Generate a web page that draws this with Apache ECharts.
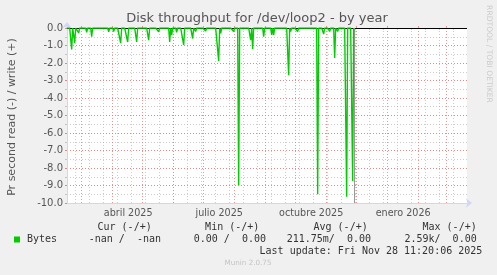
<!DOCTYPE html>
<html>
<head>
<meta charset="utf-8">
<script src="https://cdn.jsdelivr.net/npm/echarts@6/dist/echarts.min.js"></script>
<style>
html,body{margin:0;padding:0;background:#f0f0f0;}
#chart{width:497px;height:275px;}
</style>
</head>
<body>
<div id="chart"></div>
<script>
// ---- data ----
var titleText = 'Disk throughput for /dev/loop2 - by year';
var yAxisTitle = 'Pr second read (-) / write (+)';
var axisStart = '2025-02-14T08:00:00Z';   // left edge of plot
var axisDays = 400;
var dataStart = '2025-02-14';
var dataEnd = '2025-11-28';
var nowMarker = '2025-11-28T12:00:00Z';
// read (-) spikes: dates and values; all other days are 0
var spikeDates = ['2025-02-19','2025-02-22','2025-02-26','2025-03-06','2025-03-11','2025-03-28','2025-04-02','2025-04-09','2025-04-16','2025-04-25',
                  '2025-05-07','2025-05-17','2025-05-28','2025-05-30','2025-06-04','2025-06-11','2025-06-20','2025-06-23','2025-07-03','2025-07-16',
                  '2025-07-18','2025-07-31','2025-08-05','2025-08-17','2025-08-19','2025-08-30','2025-09-07','2025-09-09','2025-09-24','2025-09-26',
                  '2025-10-03','2025-10-23','2025-10-29','2025-11-04','2025-11-09','2025-11-12','2025-11-21','2025-11-27'];
var spikeValues = [-1.22,-0.85,-0.28,-0.25,-0.5,-0.22,-0.2,-0.87,-0.8,-0.8,
                   -0.7,-0.22,-0.8,-0.4,-0.25,-0.97,-0.6,-0.2,-0.17,-1.88,
                   -0.3,-0.2,-8.97,-0.7,-1.2,-0.5,-0.4,-0.4,-2.7,-0.2,
                   -0.2,-9.5,-0.35,-0.2,-1.72,-0.2,-9.64,-8.74];
var monthTicks = ['2025-03-01','2025-04-01','2025-05-01','2025-06-01','2025-07-01','2025-08-01','2025-09-01','2025-10-01','2025-11-01','2025-12-01','2026-01-01','2026-02-01','2026-03-01'];
var minorTickStart = '2025-02-23';
var minorTickStepDays = 14;
var xLabelDates = ['2025-04-16T12:00:00Z','2025-07-16T12:00:00Z','2025-10-16T12:00:00Z','2026-01-16T12:00:00Z'];
var xLabelTexts = ['abril 2025','julio 2025','octubre 2025','enero 2026'];
var legendName = 'Bytes';
var legendHeaders = ['Cur (-/+)','Min (-/+)','Avg (-/+)','Max (-/+)'];
var legendValues = ['-nan /  -nan','0.00 /  0.00','211.75m/  0.00','2.59k/  0.00'];
var lastUpdate = 'Last update: Fri Nov 28 11:20:06 2025';
var footer = 'Munin 2.0.75';
var sideText = 'RRDTOOL / TOBI OETIKER';

// ---- build ----
var DAY = 86400000;
function t(s){ return Date.parse(s.length === 10 ? s + 'T00:00:00Z' : s); }
var xMin = t(axisStart), xMax = xMin + axisDays * DAY;
var spikeMap = {};
spikeDates.forEach(function(d,i){ spikeMap[t(d)] = spikeValues[i]; });
var seriesData = [];
for (var ts = t(dataStart); ts <= t(dataEnd); ts += DAY) {
  seriesData.push([ts, spikeMap[ts] !== undefined ? spikeMap[ts] : 0]);
}
var monthVals = monthTicks.map(t);
var minorVals = [];
for (var m = t(minorTickStart); m < xMax; m += minorTickStepDays * DAY) minorVals.push(m);
var labelVals = xLabelDates.map(t);
var labelMap = {};
labelVals.forEach(function(v,i){ labelMap[v] = xLabelTexts[i]; });

var RED = 'rgba(220,120,120,0.75)';
var GREY = 'rgba(170,170,170,0.6)';
var AXIS = '#CFD6F8';
var FONT = '#555555';
var MONO = '10px "DejaVu Sans Mono"';
var LEG = '#333333';

var chart = echarts.init(document.getElementById('chart'), null, {renderer:'canvas'});
chart.setOption({
  backgroundColor:'#f0f0f0',
  animation:false,
  grid:[{left:67, top:28, width:400, height:175, show:true, backgroundColor:'#ffffff', borderWidth:0}],
  xAxis:[
    {type:'value', min:xMin, max:xMax,
     axisLine:{show:false},
     axisTick:{show:true, customValues:minorVals, length:2, lineStyle:{color:GREY}},
     axisLabel:{show:false},
     splitLine:{show:true, lineStyle:{color:GREY, type:[1,2], width:1}}},
    {type:'value', min:xMin, max:xMax,
     axisLine:{show:false},
     axisTick:{show:true, customValues:monthVals, length:2, lineStyle:{color:RED}},
     axisLabel:{show:false},
     splitLine:{show:true, lineStyle:{color:RED, type:[1,2], width:1}}},
    {type:'value', min:xMin, max:xMax, position:'bottom',
     axisLine:{show:true, lineStyle:{color:AXIS, width:1}, symbol:['none','arrow'], symbolSize:[7,6], symbolOffset:[0,5]},
     axisTick:{show:false},
     axisLabel:{show:true, customValues:labelVals, formatter:function(v){ return labelMap[v] || ''; },
                color:FONT, fontFamily:'DejaVu Sans', fontSize:9.6, margin:5},
     splitLine:{show:false}}
  ],
  yAxis:[
    {type:'value', min:-10, max:0, interval:0.5,
     axisLine:{show:false}, axisTick:{show:true, length:2, lineStyle:{color:GREY}},
     axisLabel:{show:false},
     splitLine:{show:true, lineStyle:{color:GREY, type:[1,2]}}},
    {type:'value', min:-10, max:0, interval:1,
     axisLine:{show:true, onZero:false, lineStyle:{color:AXIS}, symbol:['none','arrow'], symbolSize:[7,6], symbolOffset:[0,6]},
     axisTick:{show:true, length:2, lineStyle:{color:RED}},
     axisLabel:{show:true, color:FONT, fontFamily:'DejaVu Sans', fontSize:10, margin:4,
                formatter:function(v){ return v.toFixed(1); }},
     splitLine:{show:true, lineStyle:{color:RED, type:[1,2]}},
     position:'left'}
  ],
  series:[{
    type:'line', name:legendName, xAxisIndex:2, yAxisIndex:1,
    data:seriesData, showSymbol:false, symbol:'none',
    lineStyle:{color:'#00cc00', width:1.4}, z:5,
    markLine:{silent:true, symbol:'none', animation:false, label:{show:false},
      data:[
        {yAxis:0, lineStyle:{color:'#000000', width:1, type:'solid'}},
        {xAxis:t(nowMarker), lineStyle:{color:'#999999', width:1, type:'solid'}}
      ]}
  }],
  graphic:[
    {type:'text', x:257, y:19, style:{text:titleText, font:'13px "DejaVu Sans"', fill:FONT, textAlign:'center', textVerticalAlign:'middle'}},
    {type:'text', x:12, y:117, rotation:Math.PI/2, style:{text:yAxisTitle, font:'11px "DejaVu Sans"', fill:FONT, textAlign:'center', textVerticalAlign:'middle'}},
    {type:'text', x:489, y:54, rotation:-Math.PI/2, style:{text:sideText, font:'7.6px "DejaVu Sans"', fill:'#cccccc', textAlign:'center', textVerticalAlign:'middle'}},
    {type:'rect', shape:{x:14, y:236.5, width:6, height:6}, style:{fill:'#00cc00'}},
    {type:'text', x:27, y:239.5, style:{text:legendName, font:MONO, fill:LEG, textVerticalAlign:'middle'}},
    {type:'text', x:151.7, y:227, style:{text:legendHeaders[0], font:MONO, fill:LEG, textAlign:'right', textVerticalAlign:'middle'}},
    {type:'text', x:259.3, y:227, style:{text:legendHeaders[1], font:MONO, fill:LEG, textAlign:'right', textVerticalAlign:'middle'}},
    {type:'text', x:367.7, y:227, style:{text:legendHeaders[2], font:MONO, fill:LEG, textAlign:'right', textVerticalAlign:'middle'}},
    {type:'text', x:476.7, y:227, style:{text:legendHeaders[3], font:MONO, fill:LEG, textAlign:'right', textVerticalAlign:'middle'}},
    {type:'text', x:161, y:239.5, style:{text:legendValues[0], font:MONO, fill:LEG, textAlign:'right', textVerticalAlign:'middle'}},
    {type:'text', x:266, y:239.5, style:{text:legendValues[1], font:MONO, fill:LEG, textAlign:'right', textVerticalAlign:'middle'}},
    {type:'text', x:371, y:239.5, style:{text:legendValues[2], font:MONO, fill:LEG, textAlign:'right', textVerticalAlign:'middle'}},
    {type:'text', x:476.7, y:239.5, style:{text:legendValues[3], font:MONO, fill:LEG, textAlign:'right', textVerticalAlign:'middle'}},
    {type:'text', x:482.3, y:251.7, style:{text:lastUpdate, font:MONO, fill:LEG, textAlign:'right', textVerticalAlign:'middle'}},
    {type:'text', x:248, y:263.3, style:{text:footer, font:'7.2px "DejaVu Sans"', fill:'#c4c4c4', textAlign:'center', textVerticalAlign:'middle'}}
  ]
});
</script>
</body>
</html>
